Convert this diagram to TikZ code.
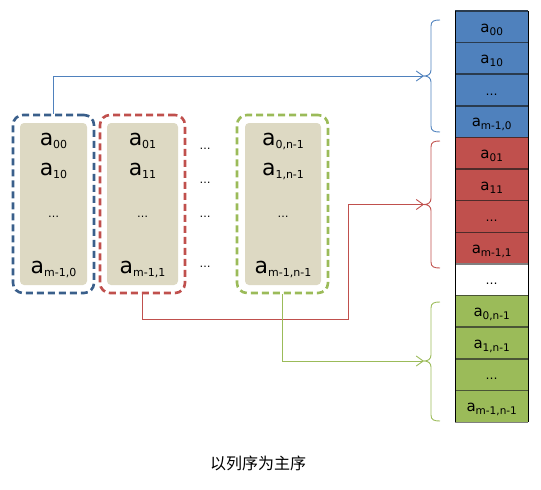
\documentclass[tikz,border=0pt]{standalone}
\usepackage{fontspec}
\setmainfont{DejaVu Sans}
\newfontfamily\cjk{Noto Sans CJK SC}
\usetikzlibrary{arrows.meta,calc}
\definecolor{cblue}{HTML}{4F81BD}
\definecolor{cbluedk}{HTML}{3A5F8B}
\definecolor{cbluesep}{HTML}{2A3B4E}
\definecolor{cred}{HTML}{C0504D}
\definecolor{credsep}{HTML}{4E2B2A}
\definecolor{cgreen}{HTML}{9BBB59}
\definecolor{cgreensep}{HTML}{4A5536}
\definecolor{beige}{HTML}{DDD9C3}
\newcommand\bigel[1]{{\fontsize{22}{22}\selectfont a}\raisebox{-3.5pt}{\fontsize{11}{11}\selectfont #1}}
\newcommand\smel[1]{{\fontsize{15}{15}\selectfont a}\raisebox{-3pt}{\fontsize{10.5}{10.5}\selectfont #1}}
\newcommand\bigdots{{\fontsize{11}{11}\selectfont …}}
\newcommand\smdots{{\fontsize{12}{12}\selectfont …}}
\begin{document}
\begin{tikzpicture}[x=1pt,y=-1pt,
  dbox/.style={draw, line width=2.6pt, dash pattern=on 7pt off 4pt, rounded corners=10pt, minimum height=178pt, inner sep=0pt},
  ibox/.style={fill=beige, rounded corners=4pt, minimum height=162pt, inner sep=0pt},
  bigtxt/.style={anchor=base, inner sep=0pt},
  cell/.style={minimum width=73pt, minimum height=31.6pt, inner sep=0pt, anchor=north west},
  ctxt/.style={anchor=base, inner sep=0pt},
  conn/.style={line width=1pt, -{Straight Barb[length=7pt,width=10pt,line width=0.9pt]}},
  brc/.style={line width=0.9pt}
]
\useasboundingbox (0,0) rectangle (541,490);
% left column boxes
\node[ibox, minimum width=67pt] (i0) at (53.5,204) {};
\node[ibox, minimum width=71pt] (i1) at (142.5,204) {};
\node[ibox, minimum width=76pt] (i2) at (283,204) {};
\node[dbox, draw=cbluedk, minimum width=81pt] (c0) at (53.5,204) {};
\node[dbox, draw=cred, minimum width=85pt] (c1) at (142.5,204) {};
\node[dbox, draw=cgreen, minimum width=91pt] (c2) at (282.5,204) {};
% left texts
\node[bigtxt] (t00) at (53.5,145) {\bigel{00}};
\node[bigtxt] (t10) at (53.5,175) {\bigel{10}};
\node[bigtxt] (td0) at (53.5,217) {\bigdots};
\node[bigtxt] (tm0) at (53.5,273) {\bigel{m-1,0}};
\node[bigtxt] (t01) at (142.5,145) {\bigel{01}};
\node[bigtxt] (t11) at (142.5,175) {\bigel{11}};
\node[bigtxt] (td1) at (142.5,217) {\bigdots};
\node[bigtxt] (tm1) at (142.5,273) {\bigel{m-1,1}};
\node[bigtxt] (t0n) at (283,145) {\bigel{0,n-1}};
\node[bigtxt] (t1n) at (283,175) {\bigel{1,n-1}};
\node[bigtxt] (tdn) at (283,217) {\bigdots};
\node[bigtxt] (tmn) at (283,273) {\bigel{m-1,n-1}};
\node[bigtxt] (m1) at (205,149) {\bigdots};
\node[bigtxt] (m2) at (205,183) {\bigdots};
\node[bigtxt] (m3) at (205,217) {\bigdots};
\node[bigtxt] (m4) at (205,267) {\bigdots};
% right column cells
\foreach \i/\col/\txt in {0/cblue/\smel{00},1/cblue/\smel{10},2/cblue/\smdots,3/cblue/\smel{m-1,0},
  4/cred/\smel{01},5/cred/\smel{11},6/cred/\smdots,7/cred/\smel{m-1,1},
  8/white/\smdots,
  9/cgreen/\smel{0,n-1},10/cgreen/\smel{1,n-1},11/cgreen/\smdots,12/cgreen/\smel{m-1,n-1}}{
  \node[cell, fill=\col] (r\i) at (455,{11+31.615*\i}) {};
  \node[ctxt] (rt\i) at ($(r\i.north)+(0,21)$) {\txt};
}
% separators
\foreach \i/\col in {0/cbluesep,1/cbluesep,2/cbluesep,3/cbluesep,4/credsep,5/credsep,6/credsep,7/credsep,8/gray,9/cgreensep,10/cgreensep,11/cgreensep,12/cgreensep}{
  \draw[line width=1.6pt, \col] (r\i.north west) -- (r\i.north east);
}
\draw[line width=1.6pt, gray] (r12.south west) -- (r12.south east);
\draw[line width=0.8pt, black] (r0.north west) -- (r12.south west);
\draw[line width=0.8pt, black] (r0.north east) -- (r12.south east);
% braces
\coordinate (b0) at (424,76);
\coordinate (b1) at (424,204.5);
\coordinate (b2) at (424,361);
\draw[brc, cblue] (440,20) .. controls (434,20) and (431,21) .. (431,26) -- (431,70) .. controls (431,74) and (428,76) .. (b0) .. controls (428,76) and (431,78) .. (431,82) -- (431,126) .. controls (431,131) and (434,132) .. (440,132);
\draw[brc, cred] (440,141) .. controls (434,141) and (431,142) .. (431,147) -- (431,198.5) .. controls (431,202.5) and (428,204.5) .. (b1) .. controls (428,204.5) and (431,206.5) .. (431,210.5) -- (431,262) .. controls (431,267) and (434,268) .. (440,268);
\draw[brc, cgreen] (440,302) .. controls (434,302) and (431,303) .. (431,308) -- (431,355) .. controls (431,359) and (428,361) .. (b2) .. controls (428,361) and (431,363) .. (431,367) -- (431,415) .. controls (431,420) and (434,421) .. (440,421);
% connectors
\draw[conn, cblue] (c0.north) |- (b0);
\draw[conn, cred] (c1.south) -- ++(0,25) -| (348,204.5) -- (b1);
\draw[conn, cgreen] (c2.south) |- (b2);
% caption
\node (cap) at (258,463) {\cjk\fontsize{16}{16}\selectfont 以列序为主序};
\end{tikzpicture}
\end{document}
